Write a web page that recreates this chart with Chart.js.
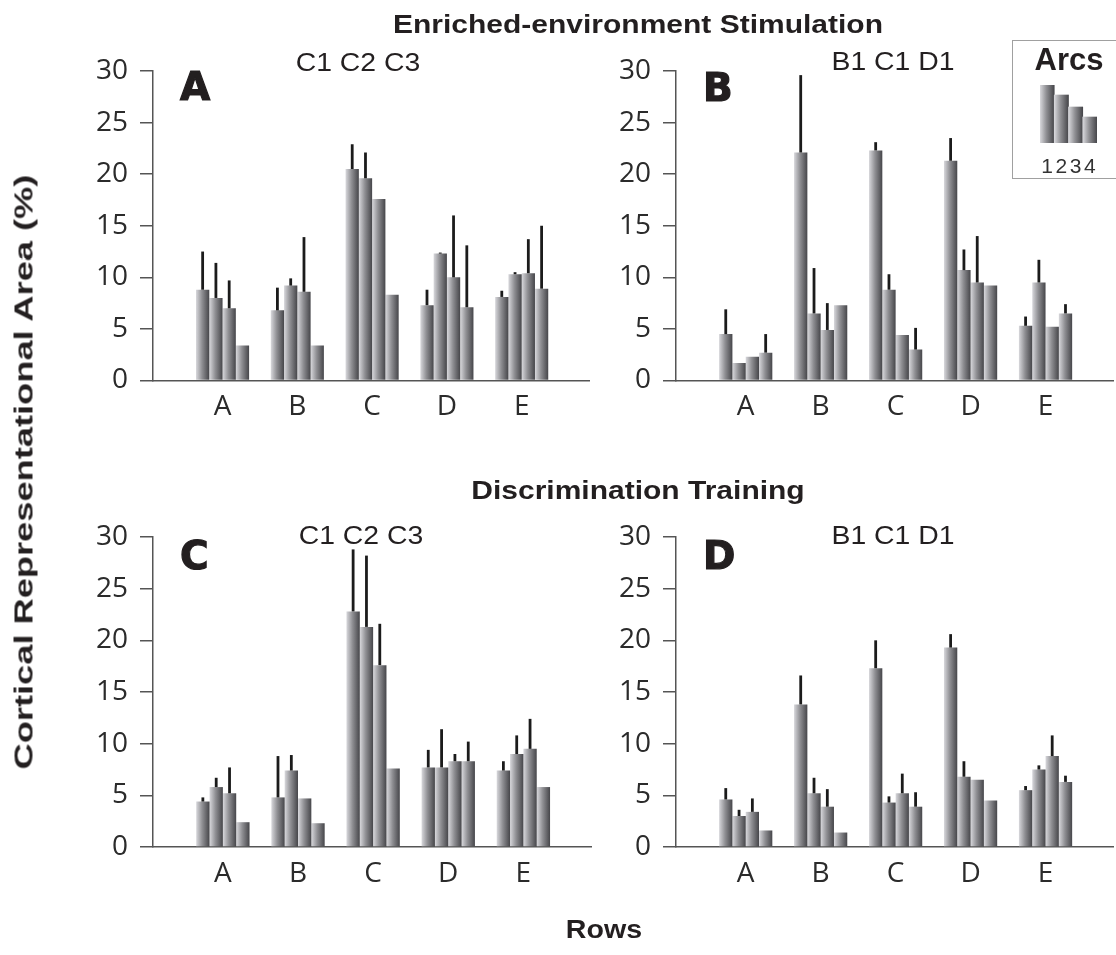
<!DOCTYPE html>
<html>
<head>
<meta charset="utf-8">
<script src="https://cdn.jsdelivr.net/npm/chart.js@4.4.1/dist/chart.umd.min.js"></script>
<style>
  body { margin: 0; background: #fff; width: 1116px; height: 955px; position: relative; overflow: hidden;
         font-family: "Liberation Sans", Arial, sans-serif; color: #231f20; }
  canvas.full { position: absolute; left: 0; top: 0; }
  .t { position: absolute; white-space: nowrap; line-height: 1; }
  .big { font-weight: bold; font-size: 25px; }
  .sub { font-size: 26.5px; }
  .letter { font-family: "DejaVu Sans", sans-serif; font-weight: bold; font-size: 39px; -webkit-text-stroke: 1.2px #231f20; }
  #legendBox { position: absolute; left: 1012px; top: 40px; width: 120px; height: 139px; border: 1px solid #a0a0a0; box-sizing: border-box; }
</style>
</head>
<body>
<div id="legendBox"></div>
<canvas id="panelA" class="full" width="1116" height="955"></canvas>
<canvas id="panelB" class="full" width="1116" height="955"></canvas>
<canvas id="panelC" class="full" width="1116" height="955"></canvas>
<canvas id="panelD" class="full" width="1116" height="955"></canvas>
<canvas id="legendChart" class="full" width="1116" height="955"></canvas>

<div class="t big" style="left:638px;top:11.7px;transform:translateX(-50%) scaleX(1.2)">Enriched-environment Stimulation</div>
<div class="t big" style="left:638px;top:477.7px;transform:translateX(-50%) scaleX(1.2)">Discrimination Training</div>
<div class="t sub" style="left:358px;top:48.6px;transform:translateX(-50%) scaleX(1.07)">C1 C2 C3</div>
<div class="t sub" style="left:893px;top:48px;transform:translateX(-50%) scaleX(1.07)">B1 C1 D1</div>
<div class="t sub" style="left:361px;top:521.5px;transform:translateX(-50%) scaleX(1.07)">C1 C2 C3</div>
<div class="t sub" style="left:893px;top:521.5px;transform:translateX(-50%) scaleX(1.07)">B1 C1 D1</div>
<div class="t letter" style="left:180px;top:67.4px">A</div>
<div class="t letter" style="left:703px;top:68.4px">B</div>
<div class="t letter" style="left:180px;top:536.4px">C</div>
<div class="t letter" style="left:703px;top:536px">D</div>
<div class="t big" style="left:24px;top:472px;transform:translate(-50%,-50%) rotate(-90deg) scaleX(1.45)">Cortical Representational Area (%)</div>
<div class="t big" style="left:604px;top:915.6px;font-size:26px;transform:translateX(-50%) scaleX(1.1)">Rows</div>
<div class="t" style="left:1069px;top:44px;font-weight:bold;font-size:31px;transform:translateX(-50%)">Arcs</div>

<script>
const rows = ['A', 'B', 'C', 'D', 'E'];
const arcs = ['1', '2', '3', '4'];

// Enriched environment, C1 C2 C3 (panel A): one array per arc, across rows A-E
const envC_arc1 = [8.8, 6.8, 20.5, 7.3, 8.1];
const envC_arc2 = [8.0, 9.2, 19.6, 12.3, 10.3];
const envC_arc3 = [7.0, 8.6, 17.6, 10.0, 10.4];
const envC_arc4 = [3.4, 3.4, 8.3, 7.1, 8.9];
const envC_sem1 = [3.7, 2.2, 2.4, 1.5, 0.6];
const envC_sem2 = [3.4, 0.7, 2.5, 0.1, 0.2];
const envC_sem3 = [2.7, 5.3, 0, 6.0, 3.3];
const envC_sem4 = [0, 0, 0, 6.0, 6.1];

// Enriched environment, B1 C1 D1 (panel B)
const envB_arc1 = [4.5, 22.1, 22.3, 21.3, 5.3];
const envB_arc2 = [1.7, 6.5, 8.8, 10.7, 9.5];
const envB_arc3 = [2.3, 4.9, 4.4, 9.5, 5.2];
const envB_arc4 = [2.7, 7.3, 3.0, 9.2, 6.5];
const envB_sem1 = [2.4, 7.5, 0.8, 2.2, 0.9];
const envB_sem2 = [0, 4.4, 1.5, 2.0, 2.2];
const envB_sem3 = [0, 2.6, 0, 4.5, 0];
const envB_sem4 = [1.8, 0, 2.1, 0, 0.9];

// Discrimination training, C1 C2 C3 (panel C)
const discC_arc1 = [4.4, 4.8, 22.8, 7.7, 7.4];
const discC_arc2 = [5.8, 7.4, 21.3, 7.7, 9.0];
const discC_arc3 = [5.2, 4.7, 17.6, 8.3, 9.5];
const discC_arc4 = [2.4, 2.3, 7.6, 8.3, 5.8];
const discC_sem1 = [0.4, 4.0, 6.0, 1.7, 0.9];
const discC_sem2 = [0.9, 1.5, 6.9, 3.7, 1.8];
const discC_sem3 = [2.5, 0, 4.0, 0.7, 2.9];
const discC_sem4 = [0, 0, 0, 1.9, 0];

// Discrimination training, B1 C1 D1 (panel D)
const discB_arc1 = [4.6, 13.8, 17.3, 19.3, 5.5];
const discB_arc2 = [3.0, 5.2, 4.3, 6.8, 7.5];
const discB_arc3 = [3.4, 3.9, 5.2, 6.5, 8.8];
const discB_arc4 = [1.6, 1.4, 3.9, 4.5, 6.3];
const discB_sem1 = [1.1, 2.8, 2.7, 1.3, 0.4];
const discB_sem2 = [0.6, 1.5, 0.6, 1.5, 0.4];
const discB_sem3 = [1.3, 1.7, 1.9, 0, 2.0];
const discB_sem4 = [0, 0, 1.4, 0, 0.6];

const yTicks = [0, 5, 10, 15, 20, 25, 30];
const legendLevels = [5.8, 4.8, 3.6, 2.6];

// grey gradient, light on the left of each bar, dark on the right
function barFill(ctx) {
  const el = ctx.element;
  if (!el || !isFinite(el.x) || !el.width) return '#7c7c80';
  const g = ctx.chart.ctx.createLinearGradient(el.x - el.width / 2, 0, el.x + el.width / 2, 0);
  g.addColorStop(0, '#d8d8dc');
  g.addColorStop(0.45, '#8f8f93');
  g.addColorStop(1, '#46464a');
  return g;
}

const errorBars = {
  id: 'errorBars',
  afterDatasetsDraw(chart) {
    const { ctx, scales: { y } } = chart;
    ctx.save();
    ctx.strokeStyle = '#1b1b1b';
    ctx.lineWidth = 2.8;
    chart.data.datasets.forEach((ds, i) => {
      if (!ds.sem) return;
      chart.getDatasetMeta(i).data.forEach((bar, j) => {
        const e = ds.sem[j];
        if (!e) return;
        const v = ds.data[j].y;
        ctx.beginPath();
        ctx.moveTo(bar.x, y.getPixelForValue(v));
        ctx.lineTo(bar.x, y.getPixelForValue(v + e));
        ctx.stroke();
      });
    });
    ctx.restore();
  }
};

const axisColor = '#555';
const tickFont = { family: 'Open Sans', size: 28 };

function makePanel(id, means, sems, pad) {
  const chart = new Chart(document.getElementById(id), {
    type: 'bar',
    data: {
      datasets: means.map((m, k) => ({
        label: 'Arc ' + arcs[k],
        data: m.map((v, i) => ({ x: i + 1, y: v })),
        sem: sems[k],
        backgroundColor: barFill,
        borderWidth: 0,
        categoryPercentage: 0.71,
        barPercentage: 1
      }))
    },
    options: {
      responsive: false,
      animation: false,
      events: [],
      layout: { padding: pad },
      plugins: { legend: { display: false }, tooltip: { enabled: false } },
      scales: {
        x: {
          type: 'linear', min: 0.07, max: 5.9, offset: false,
          afterBuildTicks: a => { a.ticks = rows.map((r, i) => ({ value: i + 1 })); },
          afterFit: s => { s.height = 79.5; },
          grid: { drawOnChartArea: false, drawTicks: false, offset: false },
          border: { display: true, color: axisColor, width: 1.5 },
          ticks: { callback: v => rows[v - 1], font: tickFont, color: '#2b2b2b', padding: 10, autoSkip: false, maxRotation: 0 }
        },
        y: {
          min: 0, max: 30,
          afterBuildTicks: a => { a.ticks = yTicks.map(v => ({ value: v })); },
          afterFit: s => { s.width = 93; },
          grid: { drawOnChartArea: false, drawTicks: true, tickLength: 13, color: axisColor, lineWidth: 1.5 },
          border: { display: true, color: axisColor, width: 1.5 },
          ticks: { font: tickFont, color: '#2b2b2b', padding: 12 }
        }
      }
    },
    plugins: [errorBars]
  });
  chart.update(); // second pass so each bar's gradient uses its own position
  return chart;
}

makePanel('panelA', [envC_arc1, envC_arc2, envC_arc3, envC_arc4], [envC_sem1, envC_sem2, envC_sem3, envC_sem4],
  { left: 60, right: 527, top: 71, bottom: 495 });
makePanel('panelB', [envB_arc1, envB_arc2, envB_arc3, envB_arc4], [envB_sem1, envB_sem2, envB_sem3, envB_sem4],
  { left: 583, right: 3, top: 71, bottom: 495 });
makePanel('panelC', [discC_arc1, discC_arc2, discC_arc3, discC_arc4], [discC_sem1, discC_sem2, discC_sem3, discC_sem4],
  { left: 60, right: 525, top: 537, bottom: 28.5 });
makePanel('panelD', [discB_arc1, discB_arc2, discB_arc3, discB_arc4], [discB_sem1, discB_sem2, discB_sem3, discB_sem4],
  { left: 583, right: 3, top: 537, bottom: 28.5 });

// small key: four arcs
const legendChart = new Chart(document.getElementById('legendChart'), {
  type: 'bar',
  data: {
    labels: arcs,
    datasets: [{ data: legendLevels, backgroundColor: barFill, borderWidth: 0, categoryPercentage: 1, barPercentage: 1 }]
  },
  options: {
    responsive: false,
    animation: false,
    events: [],
    layout: { padding: { left: 1040, right: 19, top: 85, bottom: 780 } },
    plugins: { legend: { display: false }, tooltip: { enabled: false } },
    scales: {
      x: {
        afterFit: s => { s.height = 32; },
        grid: { display: false },
        border: { display: false },
        ticks: { font: { family: 'Liberation Sans', size: 21 }, color: '#333', padding: 4, autoSkip: false, maxRotation: 0, minRotation: 0 }
      },
      y: { display: false, min: 0, max: 5.8 }
    }
  }
});
legendChart.update();
</script>
</body>
</html>
